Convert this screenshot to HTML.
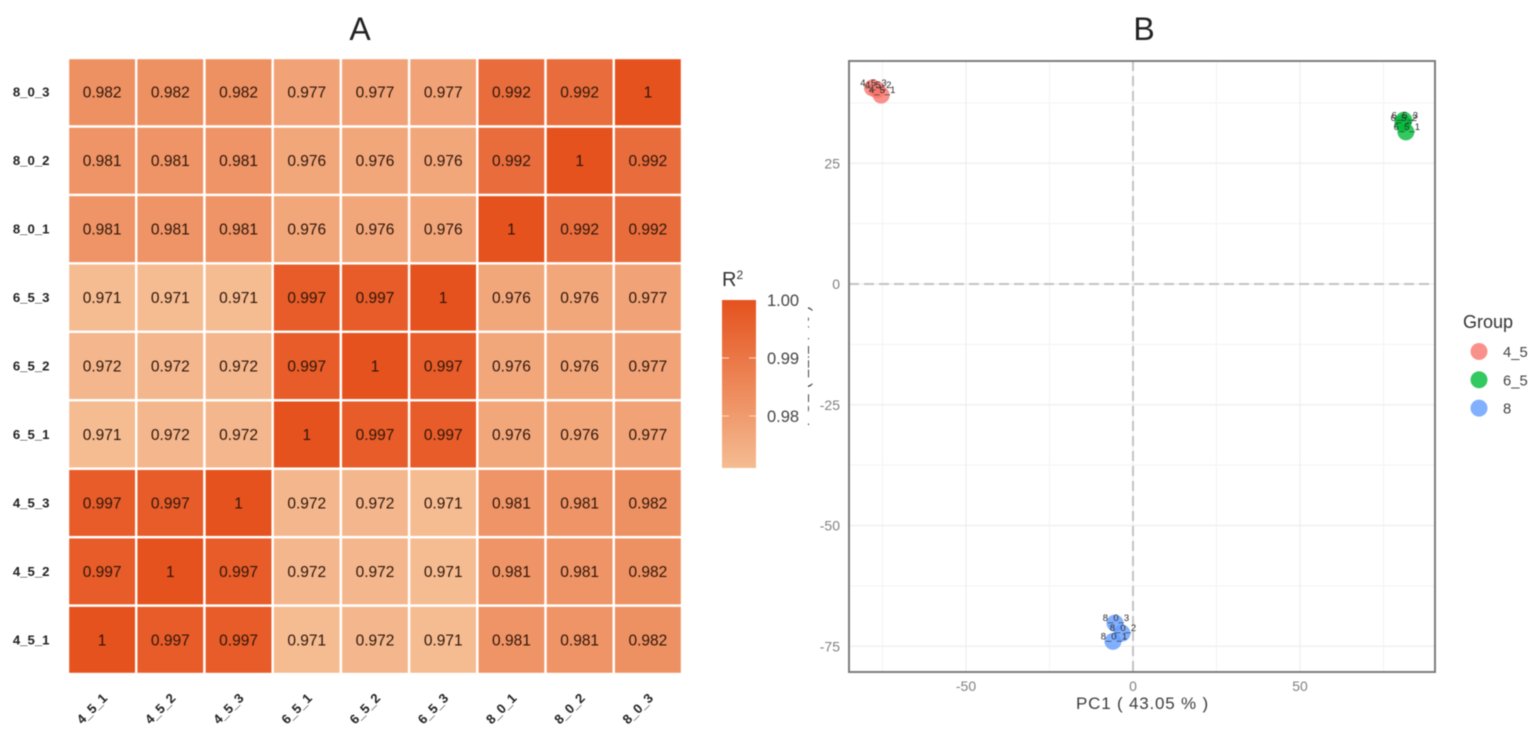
<!DOCTYPE html>
<html lang="en">
<head>
<meta charset="utf-8">
<title>Correlation heatmap and PCA</title>
<style>
html,body{margin:0;padding:0;background:#fff;width:1535px;height:733px;overflow:hidden}
svg{display:block;font-family:"Liberation Sans",sans-serif;filter:blur(0.5px)}
</style>
</head>
<body>
<svg id="chart" width="1535" height="733" viewBox="0 0 1535 733" xmlns="http://www.w3.org/2000/svg">
<defs>
<linearGradient id="bar-gradient" x1="0" y1="0" x2="0" y2="1">
<stop offset="0" stop-color="#e5521e"/>
<stop offset="1" stop-color="#f5bc92"/>
</linearGradient>
<clipPath id="ytitle-clip"><rect x="808" y="290" width="6" height="150"/></clipPath>
</defs>
<rect width="1535" height="733" fill="#fff"/>
<text x="360" y="40" font-size="32" text-anchor="middle" fill="#222">A</text>
<text x="1144" y="40" font-size="32" text-anchor="middle" fill="#222">B</text>
<g id="heatmap"></g>
<g id="colorbar">
<text x="722" y="286" font-size="20" fill="#333">R<tspan font-size="12" dy="-7">2</tspan></text>
<rect x="722" y="300" width="34" height="168" fill="url(#bar-gradient)"/>
</g>
<g id="pca"></g>
<g id="ytitle-fragments" clip-path="url(#ytitle-clip)">
<text transform="translate(809 366) rotate(-90)" font-size="17" text-anchor="middle" fill="#444">PC2 ( 21.24 % )</text>
</g>
<g id="group-legend">
<text x="1463" y="328" font-size="18" fill="#333">Group</text>
</g>
</svg>
<script>
const sampleNames = ['4_5_1','4_5_2','4_5_3','6_5_1','6_5_2','6_5_3','8_0_1','8_0_2','8_0_3'];
const row451 = [1,0.997,0.997,0.971,0.972,0.971,0.981,0.981,0.982];
const row452 = [0.997,1,0.997,0.972,0.972,0.971,0.981,0.981,0.982];
const row453 = [0.997,0.997,1,0.972,0.972,0.971,0.981,0.981,0.982];
const row651 = [0.971,0.972,0.972,1,0.997,0.997,0.976,0.976,0.977];
const row652 = [0.972,0.972,0.972,0.997,1,0.997,0.976,0.976,0.977];
const row653 = [0.971,0.971,0.971,0.997,0.997,1,0.976,0.976,0.977];
const row801 = [0.981,0.981,0.981,0.976,0.976,0.976,1,0.992,0.992];
const row802 = [0.981,0.981,0.981,0.976,0.976,0.976,0.992,1,0.992];
const row803 = [0.982,0.982,0.982,0.977,0.977,0.977,0.992,0.992,1];
const matrixRows = [row451,row452,row453,row651,row652,row653,row801,row802,row803];
const colorTicks = [1.00,0.99,0.98];

const pcaLabels = ['4_5_1','4_5_2','4_5_3','6_5_1','6_5_2','6_5_3','8_0_1','8_0_2','8_0_3'];
const pcaGroups = ['4_5','4_5','4_5','6_5','6_5','6_5','8','8','8'];
const pc1Values = [-75.4,-76.6,-78,81.7,80.8,81.1,-6,-3.3,-5.4];
const pc2Values = [39.1,40.2,40.6,31.5,33.3,33.9,-74,-72.3,-70.2];
const pc1Ticks = [-50,0,50];
const pc2Ticks = [25,0,-25,-50,-75];
const pc1Minor = [-75,-25,25,75];
const pc2Minor = [37.5,12.5,-12.5,-37.5,-62.5];
const groupNames = ['4_5','6_5','8'];

const NS = 'http://www.w3.org/2000/svg';
function mk(parent, tag, attrs, text) {
  const el = document.createElementNS(NS, tag);
  for (const k in attrs) el.setAttribute(k, attrs[k]);
  if (text !== undefined) el.textContent = text;
  parent.appendChild(el);
  return el;
}
function hexMix(a, b, t) {
  const c = [0, 1, 2].map(i => Math.round(a[i] + (b[i] - a[i]) * t));
  return 'rgb(' + c.join(',') + ')';
}
const colorLow = [245, 188, 146];
const colorHigh = [229, 82, 30];
const valueMin = 0.971;
const valueMax = 1;
function heatColor(v) {
  const t = Math.max(0, Math.min(1, (v - valueMin) / (valueMax - valueMin)));
  return hexMix(colorLow, colorHigh, Math.pow(t, 0.92));
}

/* heatmap */
const hmLeft = 68, hmRight = 682, hmTop = 58, hmBottom = 674;
const cellW = (hmRight - hmLeft) / sampleNames.length;
const cellH = (hmBottom - hmTop) / sampleNames.length;
const xCell = i => hmLeft + i * cellW;
const yCell = i => hmBottom - (i + 1) * cellH;
const heat = document.getElementById('heatmap');
matrixRows.forEach((row, r) => {
  row.forEach((v, c) => {
    const cell = mk(heat, 'rect', {x: xCell(c), y: yCell(r), width: cellW, height: cellH, fill: heatColor(v), stroke: '#fff', 'stroke-width': 2.4});
    
    
    const t = mk(heat, 'text', {x: xCell(c) + cellW / 2, y: yCell(r) + cellH / 2 + 5.5, 'font-size': 15.5, 'text-anchor': 'middle', fill: '#2e1408'}, String(v));
    
    
  });
});
sampleNames.forEach((name, i) => {
  const yl = mk(heat, 'text', {x: 49.5, y: yCell(i) + cellH / 2 + 4.5, 'font-size': 13.2, 'font-weight': 'bold', 'text-anchor': 'end', fill: '#222'}, name);
  
  
  const cx = xCell(i) + cellW / 2;
  const xl = mk(heat, 'text', {transform: 'translate(' + (cx + 6) + ' 699) rotate(-45)', 'font-size': 13.2, 'font-weight': 'bold', 'text-anchor': 'end', fill: '#222'}, name);
  
  
});

/* colour bar */
const cbar = document.getElementById('colorbar');
const cbY = v => 300 + (valueMax - v) * 5800;
colorTicks.forEach(v => {
  const y = cbY(v);
  if (v < 1) {
    const a = mk(cbar, 'line', {x1: 722, x2: 729, y1: y, y2: y, stroke: '#fbd9c4', 'stroke-width': 1});
    
    
    const b = mk(cbar, 'line', {x1: 749, x2: 756, y1: y, y2: y, stroke: '#fbd9c4', 'stroke-width': 1});
    
    
  }
  const l = mk(cbar, 'text', {x: 767, y: y + 6, 'font-size': 16.5, fill: '#444'}, v.toFixed(2));
  
  
});

/* PCA */
const pLeft = 849, pRight = 1435, pTop = 61, pBottom = 672;
const xPca = v => 1133 + v * 3.34;
const yPca = v => 284 - v * 4.83;
const groupColor = {'4_5': '#f8766d', '6_5': '#00ba38', '8': '#619cff'};
const pca = document.getElementById('pca');
pc1Minor.forEach(v => {
  const g = mk(pca, 'line', {x1: xPca(v), x2: xPca(v), y1: pTop, y2: pBottom, stroke: '#f3f3f3', 'stroke-width': 1});
  
  
});
pc2Minor.forEach(v => {
  const g = mk(pca, 'line', {x1: pLeft, x2: pRight, y1: yPca(v), y2: yPca(v), stroke: '#f3f3f3', 'stroke-width': 1});
  
  
});
pc1Ticks.forEach(v => {
  const g = mk(pca, 'line', {x1: xPca(v), x2: xPca(v), y1: pTop, y2: pBottom, stroke: '#ebebeb', 'stroke-width': 1});
  
  
  const l = mk(pca, 'text', {x: xPca(v), y: 691, 'font-size': 14, 'text-anchor': 'middle', fill: '#808080'}, String(v));
  
  
});
pc2Ticks.forEach(v => {
  const g = mk(pca, 'line', {x1: pLeft, x2: pRight, y1: yPca(v), y2: yPca(v), stroke: '#ebebeb', 'stroke-width': 1});
  
  
  const l = mk(pca, 'text', {x: 840, y: yPca(v) + 5, 'font-size': 14, 'text-anchor': 'end', fill: '#808080'}, String(v));
  
  
});
const zeroV = mk(pca, 'line', {x1: xPca(0), x2: xPca(0), y1: pTop, y2: pBottom, stroke: '#c4c4c4', 'stroke-width': 2, 'stroke-dasharray': '10 5'});


const zeroH = mk(pca, 'line', {x1: pLeft, x2: pRight, y1: yPca(0), y2: yPca(0), stroke: '#c4c4c4', 'stroke-width': 2, 'stroke-dasharray': '10 5'});


const frame = mk(pca, 'rect', {x: pLeft, y: pTop, width: pRight - pLeft, height: pBottom - pTop, fill: 'none', stroke: '#7c7c7c', 'stroke-width': 2});


pc1Values.forEach((v, i) => {
  const dot = mk(pca, 'circle', {cx: xPca(v), cy: yPca(pc2Values[i]), r: 8.5, fill: groupColor[pcaGroups[i]], 'fill-opacity': 0.8});
  
  
});
pc1Values.forEach((v, i) => {
  const lab = mk(pca, 'text', {x: xPca(v) + 1, y: yPca(pc2Values[i]) - 2, 'font-size': 9.5, 'text-anchor': 'middle', fill: '#2c2c2c'}, pcaLabels[i]);
  
  
});
const xTitle = mk(pca, 'text', {x: 1076, y: 709, 'font-size': 17, 'letter-spacing': 0.8, fill: '#3c3c3c'}, 'PC1 ( 43.05 % )');



/* group legend */
const legend = document.getElementById('group-legend');
groupNames.forEach((name, i) => {
  const y = 351.5 + i * 28.3;
  const key = mk(legend, 'circle', {cx: 1479, cy: y, r: 8.5, fill: groupColor[name], 'fill-opacity': 0.8});
  
  
  const t = mk(legend, 'text', {x: 1503, y: y + 5.5, 'font-size': 14.8, fill: '#444'}, name);
  
  
});
</script>
</body>
</html>
